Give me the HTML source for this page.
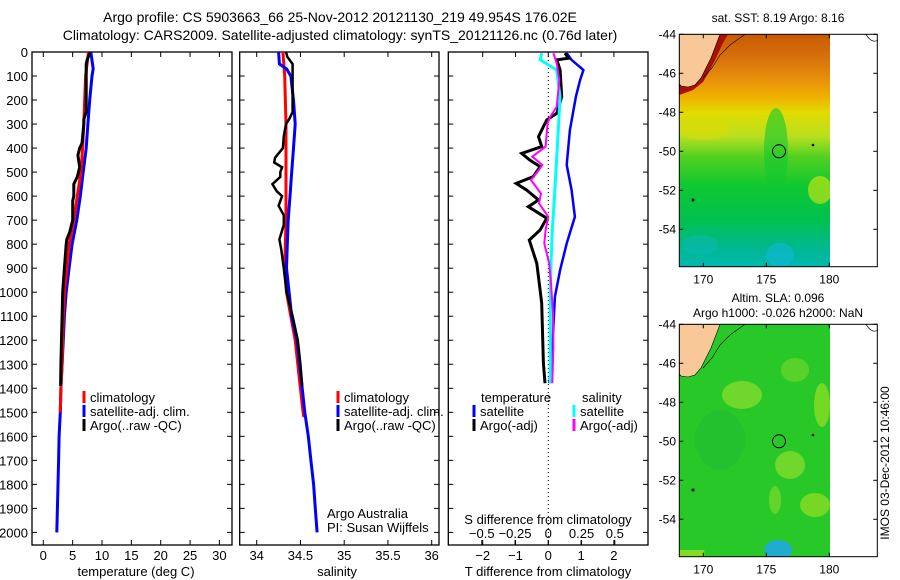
<!DOCTYPE html>
<html><head><meta charset="utf-8"><style>
html,body{margin:0;padding:0;background:#fff;}
svg{display:block;font-family:"Liberation Sans",sans-serif;}
text{fill:#000;}
</style></head><body>
<svg id="fig" width="900" height="580" viewBox="0 0 900 580">
<defs>
<linearGradient id="sstGrad" x1="0" y1="0" x2="0" y2="1">
<stop offset="0" stop-color="#c85a00"/><stop offset="0.1" stop-color="#d8700c"/>
<stop offset="0.2" stop-color="#e8920a"/><stop offset="0.27" stop-color="#f0b000"/>
<stop offset="0.34" stop-color="#e0dc00"/><stop offset="0.44" stop-color="#b8e020"/>
<stop offset="0.53" stop-color="#50d020"/><stop offset="0.65" stop-color="#10c830"/>
<stop offset="0.8" stop-color="#00c050"/><stop offset="0.92" stop-color="#00b890"/>
<stop offset="1" stop-color="#00b8b0"/></linearGradient>
<clipPath id="m1clip"><rect x="679.3" y="34.3" width="150.7" height="232.4"/></clipPath>
<clipPath id="m2clip"><rect x="679.3" y="324.3" width="150.7" height="232.4"/></clipPath>
</defs>
<text x="340" y="22" font-size="14" text-anchor="middle">Argo profile: CS 5903663_66 25-Nov-2012 20121130_219 49.954S 176.02E</text>
<text x="340" y="40" font-size="14" text-anchor="middle">Climatology: CARS2009. Satellite-adjusted climatology: synTS_20121126.nc (0.76d later)</text>
<g id="plots"></g>

<!-- SST map -->
<g>
<text x="778" y="22" font-size="12" text-anchor="middle">sat. SST: 8.19 Argo: 8.16</text>
<g clip-path="url(#m1clip)">
<rect x="679.3" y="34.3" width="150.7" height="232.4" fill="url(#sstGrad)"/>
<ellipse cx="776" cy="150" rx="12" ry="42" fill="#10c830" opacity="0.6"/>
<ellipse cx="820" cy="190" rx="12" ry="14" fill="#d8e810" opacity="0.6"/>
<ellipse cx="705" cy="130" rx="25" ry="10" fill="#e8d800" opacity="0.4"/>
<ellipse cx="780" cy="255" rx="14" ry="12" fill="#10b8d8" opacity="0.6"/>
<ellipse cx="700" cy="245" rx="18" ry="10" fill="#10b8c0" opacity="0.4"/>
<polygon points="679.3,34.3 728,34.3 722,45 716,58 710,70 703,82 693,90 679.3,95" fill="#a81000"/>
<polygon points="679.3,34.3 720,34.3 716,45 711,58 706,68 701,78 695,85 688,87 681,86 679.3,84" fill="#f8c898" stroke="#000" stroke-width="0.6"/>
<polyline points="745,34.3 730,45 720,55 712,68 703,78" fill="none" stroke="#000" stroke-width="0.6"/>
</g>
<path d="M866,34.3 Q872,44 878,40" fill="none" stroke="#000" stroke-width="0.7"/>
<circle cx="779" cy="151.3" r="6.5" fill="none" stroke="#000" stroke-width="1"/>
<circle cx="693" cy="200" r="1.5" fill="#000"/><circle cx="813" cy="145" r="1.3" fill="#000"/>
<rect x="679.3" y="34.3" width="198" height="232.4" fill="none" stroke="#000" stroke-width="1"/>
</g>
<!-- SLA map -->
<g>
<text x="778" y="302" font-size="12" text-anchor="middle">Altim. SLA: 0.096</text>
<text x="778" y="317" font-size="12" text-anchor="middle">Argo h1000: -0.026 h2000: NaN</text>
<g clip-path="url(#m2clip)">
<rect x="679.3" y="324.3" width="150.7" height="232.4" fill="#28c828"/>
<ellipse cx="742" cy="395" rx="20" ry="14" fill="#b8e830" opacity="0.5"/>
<ellipse cx="795" cy="370" rx="14" ry="12" fill="#a0e030" opacity="0.4"/>
<ellipse cx="822" cy="405" rx="8" ry="22" fill="#c0e820" opacity="0.5"/>
<ellipse cx="790" cy="465" rx="15" ry="14" fill="#b8e830" opacity="0.5"/>
<ellipse cx="815" cy="505" rx="15" ry="12" fill="#c0e820" opacity="0.5"/>
<ellipse cx="775" cy="500" rx="6" ry="14" fill="#b8e830" opacity="0.4"/>
<ellipse cx="720" cy="440" rx="25" ry="30" fill="#18b838" opacity="0.4"/>
<ellipse cx="778" cy="550" rx="14" ry="10" fill="#20a8e0" opacity="0.9"/>
<rect x="679.3" y="550" width="25" height="7" fill="#c0e820" opacity="0.6"/>
<polygon points="679.3,324.3 720,324.3 716,335 711,348 706,358 701,368 695,375 688,377 681,376 679.3,374" fill="#f8c898" stroke="#000" stroke-width="0.6"/>
<polyline points="745,324.3 730,335 720,345 712,358 703,368" fill="none" stroke="#000" stroke-width="0.6"/>
</g>
<path d="M866,324.3 Q872,334 878,330" fill="none" stroke="#000" stroke-width="0.7"/>
<circle cx="779" cy="441.3" r="6.5" fill="none" stroke="#000" stroke-width="1"/>
<circle cx="693" cy="490" r="1.5" fill="#000"/><circle cx="813" cy="435" r="1.3" fill="#000"/>
<rect x="679.3" y="324.3" width="198" height="232.4" fill="none" stroke="#000" stroke-width="1"/>
<text transform="translate(889,463) rotate(-90)" font-size="12" text-anchor="middle">IMOS 03-Dec-2012 10:46:00</text>
</g>
<g id="mapaxes"></g>
</svg>
<script>
// ---- data ----
const tClimDepth = [0,100,300,400,500,600,700,800,900,1000,1100,1200,1300,1400,1500];
const tClimVals  = [7.7,7.2,6.9,6.7,6.4,5.8,5.2,4.4,4.0,3.6,3.4,3.3,3.2,3.0,2.9];
const tSatDepth = [0,70,100,200,300,400,500,600,700,800,900,1000,1100,1200,1300,1400,1500,1600,1700,1800,1900,2000];
const tSatVals  = [8.1,8.5,8.3,7.9,7.6,7.3,6.8,6.3,5.7,4.9,4.4,3.9,3.6,3.4,3.2,3.0,2.9,2.7,2.6,2.5,2.4,2.3];
const tArgoDepth = [0,30,50,250,280,300,380,400,430,480,520,550,600,620,700,750,780,800,900,1000,1100,1200,1300,1390];
const tArgoVals  = [8.0,7.5,7.3,7.3,6.9,6.9,6.6,6.2,5.9,6.2,5.8,5.2,5.2,5.0,5.0,4.5,4.0,3.9,3.6,3.3,3.2,3.1,3.0,2.95];

const sClimDepth = [0,100,300,500,700,900,1000,1100,1200,1300,1400,1500,1520];
const sClimVals  = [34.30,34.32,34.335,34.335,34.335,34.32,34.34,34.39,34.44,34.47,34.50,34.53,34.54];
const sSatDepth = [0,50,70,100,200,300,400,500,600,700,800,900,1000,1100,1200,1300,1400,1500,1600,1700,1800,1900,2000];
const sSatVals  = [34.25,34.26,34.34,34.39,34.42,34.44,34.42,34.40,34.38,34.36,34.35,34.34,34.37,34.40,34.46,34.49,34.52,34.55,34.59,34.62,34.65,34.67,34.69];
const sArgoDepth = [0,20,50,250,280,300,350,400,440,460,480,500,520,550,580,600,640,680,720,780,820,900,1000,1100,1200,1300,1390];
const sArgoVals  = [34.335,34.35,34.41,34.41,34.37,34.335,34.31,34.30,34.21,34.20,34.29,34.27,34.27,34.18,34.23,34.29,34.25,34.31,34.31,34.26,34.28,34.31,34.34,34.41,34.47,34.50,34.52];

const dTSatDepth = [5,33,75,117,186,325,470,575,686,797,908,1019,1157,1296,1379];
const dTSatVals  = [0.56,0.71,1.07,0.97,0.84,0.66,0.56,0.71,0.81,0.56,0.36,0.2,0.15,0.1,0.03];
const dTArgoDepth = [5,26,33,75,186,255,283,352,394,422,450,477,519,547,575,616,644,692,741,783,880,991,1046,1296,1379];
const dTArgoVals  = [0.51,0.61,0.26,0.36,0.41,0.26,-0.05,-0.3,-0.2,-0.81,-0.56,-0.25,-0.46,-0.98,-0.66,-0.3,-0.61,-0.05,-0.25,-0.58,-0.35,-0.25,-0.2,-0.15,-0.1];
const dSSatDepth = [5,33,75,186,325,470,616,741,880,1019,1157,1296,1379];
const dSSatVals  = [-0.05,-0.06,0.063,0.088,0.075,0.06,0.045,0.03,0.02,0.015,0.015,0.015,0.015];
const dSArgoDepth = [5,47,117,228,269,297,325,394,436,470,491,533,589,630,686,741,797,880,963,1088,1227,1379];
const dSArgoVals  = [0.038,0.063,0.083,0.063,0.015,-0.006,-0.01,-0.02,-0.12,-0.045,-0.07,-0.13,-0.055,-0.07,0.0,-0.02,-0.03,0.007,0.02,0.035,0.038,0.03];

const depthTicks = [0,100,200,300,400,500,600,700,800,900,1000,1100,1200,1300,1400,1500,1600,1700,1800,1900,2000];
const tempTicks = [0,5,10,15,20,25,30];
const salTicks = [34,34.5,35,35.5,36];
const salTickLabels = ["34","34.5","35","35.5","36"];
const dTTicks = [-2,-1,0,1,2];
const dSTicks = [-0.5,-0.25,0,0.25,0.5];
const dSTickLabels = ["-0.5","-0.25","0","0.25","0.5"];
const latTicks = [-44,-46,-48,-50,-52,-54];
const lonTicks = [170,175,180];

// ---- axes ----
const TOP=52, BOT=545;
const yD = d => TOP + d*0.2402;
const p1 = {x0:32, x1:232}, p2 = {x0:239.7, x1:439}, p3 = {x0:448.3, x1:648};
const xT = v => 43.3 + v*5.87;
const xS = v => 256.7 + (v-34)*87.5;
const xdT = v => 548.3 + v*32.8;
const xdS = v => 548.3 + v*133;

const NS='http://www.w3.org/2000/svg';
const g=document.getElementById('plots');
function mk(tag,attrs,parent){const e=document.createElementNS(NS,tag);for(const k in attrs)e.setAttribute(k,attrs[k]);(parent||g).appendChild(e);return e;}
function txt(x,y,s,anchor,size,parent){const e=mk('text',{x:x,y:y,'font-size':size||12,'text-anchor':anchor||'middle'},parent);e.textContent=s;return e;}

function line(xs,ds,fx,color,w,name){
  const pts=xs.map((v,i)=>fx(v).toFixed(1)+','+yD(ds[i]).toFixed(1)).join(' ');
  const e=mk('polyline',{points:pts,fill:'none',stroke:color,'stroke-width':w,'stroke-linejoin':'miter'});
  
  
}
function box(p,name){
  const e=mk('rect',{x:p.x0,y:TOP,width:p.x1-p.x0,height:BOT-TOP,fill:'none',stroke:'#000','stroke-width':1.3});
  
  
  depthTicks.forEach(d=>{mk('line',{x1:p.x0,x2:p.x0+5,y1:yD(d),y2:yD(d),stroke:'#000'});mk('line',{x1:p.x1,x2:p.x1-5,y1:yD(d),y2:yD(d),stroke:'#000'});});
}
function xticks(vals,fx,labels,ly){
  vals.forEach((v,i)=>{const x=fx(v);
    mk('line',{x1:x,x2:x,y1:TOP,y2:TOP+5,stroke:'#000'});mk('line',{x1:x,x2:x,y1:BOT,y2:BOT-5,stroke:'#000'});
    const t=txt(x,ly,labels?labels[i]:String(v),'middle',13);
    
    
  });
}
function legend(x,y,color,label){
  mk('rect',{x:x-1.5,y:y-11,width:3,height:12,fill:color});
  const t=txt(x+6,y,label,'start',13);
  
  
}

// Panel 1
box(p1,'temperature-panel');
depthTicks.forEach(d=>{const t=txt(28,yD(d)+5,String(d),'end',13);
  
  });
xticks(tempTicks,xT,null,560);
let t1=txt(136,576,'temperature (deg C)','middle',13);


line(tSatVals,tSatDepth,xT,'#0000ff',3,'temp-satellite-line');
line(tClimVals,tClimDepth,xT,'#ff0000',3,'temp-climatology-line');
line(tArgoVals,tArgoDepth,xT,'#000000',3,'temp-argo-line');
legend(84,402,'#ff0000','climatology');legend(84,416,'#0000ff','satellite-adj. clim.');legend(84,430,'#000000','Argo(..raw -QC)');

// Panel 2
box(p2,'salinity-panel');
xticks(salTicks,xS,salTickLabels,560);
let t2=txt(337,576,'salinity','middle',13);


line(sClimVals,sClimDepth,xS,'#ff0000',3,'sal-climatology-line');
line(sSatVals,sSatDepth,xS,'#0000ff',3,'sal-satellite-line');
line(sArgoVals,sArgoDepth,xS,'#000000',2.5,'sal-argo-line');
legend(338,402,'#ff0000','climatology');legend(338,416,'#0000ff','satellite-adj. clim.');legend(338,430,'#000000','Argo(..raw -QC)');
txt(327,518,'Argo Australia','start',13);
txt(327,532,'PI: Susan Wijffels','start',13);

// Panel 3
box(p3,'difference-panel');
mk('line',{x1:548.3,x2:548.3,y1:TOP,y2:BOT,stroke:'#000','stroke-dasharray':'1,3'});
dTTicks.forEach(v=>{const x=xdT(v);mk('line',{x1:x,x2:x,y1:TOP,y2:TOP+5,stroke:'#000'});mk('line',{x1:x,x2:x,y1:BOT,y2:BOT-5,stroke:'#000'});
  const t=txt(x,560,String(v).replace('-','\u2212'),'middle',13);
  
  });
dSTicks.forEach((v,i)=>{const x=xdS(v);mk('line',{x1:x,x2:x,y1:BOT,y2:BOT-5,stroke:'#000'});
  const t=txt(x,538,dSTickLabels[i].replace('-','\u2212'),'middle',13);
  
  });
txt(548,524,'S difference from climatology','middle',13);
txt(548,576,'T difference from climatology','middle',13);
line(dTSatVals,dTSatDepth,xdT,'#0000ff',2.5,'dT-satellite-line');
line(dTArgoVals,dTArgoDepth,xdT,'#000000',3,'dT-argo-line');
line(dSSatVals,dSSatDepth,xdS,'#00ffff',3,'dS-satellite-line');
line(dSArgoVals,dSArgoDepth,xdS,'#ff00ff',2,'dS-argo-line');
txt(481,402,'temperature','start',13);
legend(474,416,'#0000ff','satellite');legend(474,430,'#000000','Argo(-adj)');
txt(582,402,'salinity','start',13);
legend(574,416,'#00ffff','satellite');legend(574,430,'#ff00ff','Argo(-adj)');

// Map axes
const ma=document.getElementById('mapaxes');
const mx = lon => 703.3 + (lon-170)*12.6;
[34.3,324.3].forEach((top,mi)=>{
  const my = lat => top + (-44-lat)*19.5;
  latTicks.forEach(l=>{const y=my(l);
    mk('line',{x1:679.3,x2:683.3,y1:y,y2:y,stroke:'#000'},ma);mk('line',{x1:877.3,x2:873.3,y1:y,y2:y,stroke:'#000'},ma);
    const t=txt(676,y+4,String(l),'end',12,ma);
    
    });
  lonTicks.forEach(l=>{const x=mx(l);
    mk('line',{x1:x,x2:x,y1:top,y2:top+4,stroke:'#000'},ma);mk('line',{x1:x,x2:x,y1:top+232.4,y2:top+228.4,stroke:'#000'},ma);
    const t=txt(x,top+249,String(l),'middle',12,ma);
    
    });
});
</script>
</body></html>
